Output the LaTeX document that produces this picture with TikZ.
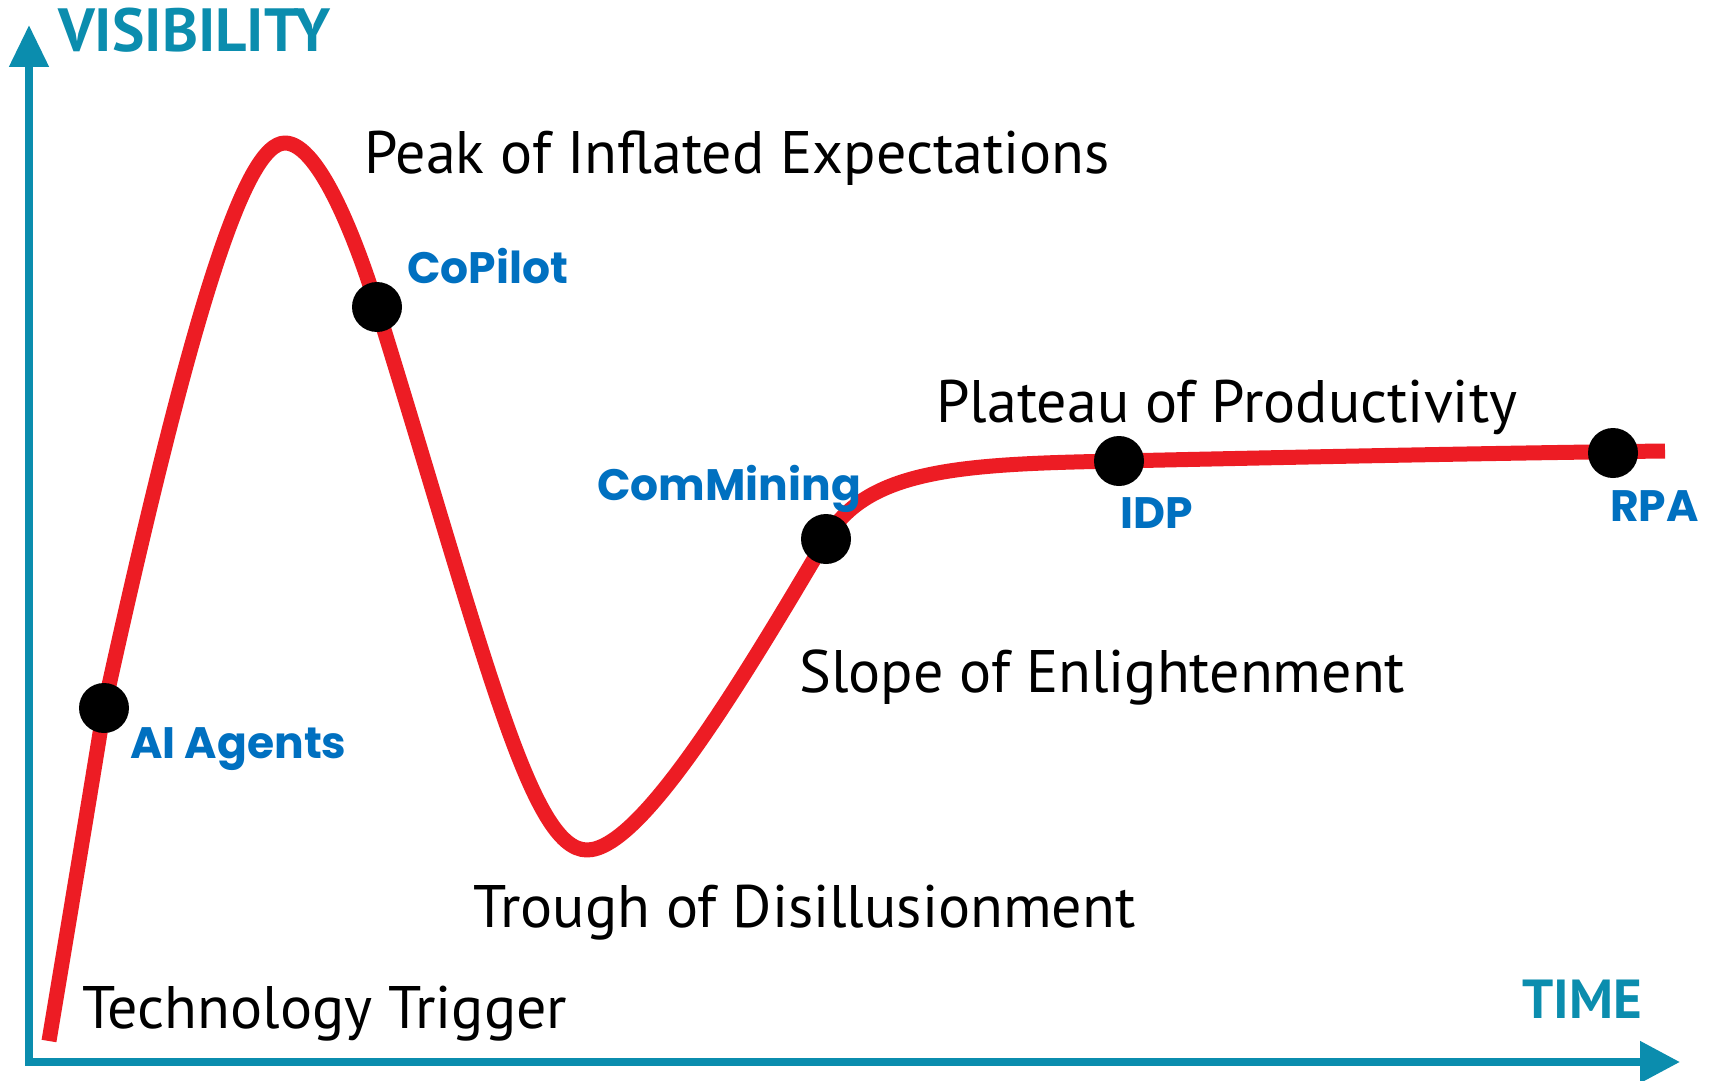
\documentclass[tikz,border=0pt]{standalone}
\usepackage{fontspec}
\setmainfont{PT Sans}
\newfontfamily\labfont{Poppins}
\usetikzlibrary{arrows.meta}
\definecolor{axisteal}{RGB}{11,141,174}
\definecolor{labblue}{RGB}{0,112,192}
\definecolor{hypered}{RGB}{237,28,36}
\begin{document}
\begin{tikzpicture}[x=1pt,y=-1pt,
  phase/.style={anchor=base west, inner sep=0pt, font=\fontsize{60}{64}\selectfont, text=black},
  techlab/.style={anchor=base west, inner sep=0pt, font=\labfont\bfseries\fontsize{44}{48}\selectfont, text=labblue},
  axislab/.style={anchor=base west, inner sep=0pt, font=\bfseries\fontsize{61}{64}\selectfont, text=axisteal},
  dot/.style={circle, fill=black, minimum size=50pt, inner sep=0pt},
  hype/.style={draw=hypered, line width=15pt, line join=round},
  axisline/.style={draw=axisteal, line width=8pt, {Triangle[length=42pt,width=38pt]}-{Triangle[length=40pt,width=40pt]}}]
\path[use as bounding box, fill=white] (0,0) rectangle (1709,1081);
% axes
\coordinate (ytip) at (29,25);
\coordinate (origin) at (29,1062);
\coordinate (xtip) at (1680,1062);
\draw[axisline] (ytip) -- (origin) -- (xtip);
\node[axislab] (vis) at (58,52) {VISIBILITY};
\node[axislab, font=\bfseries\fontsize{55}{58}\selectfont] (time) at (1522,1018) {TIME};
% hype curve
\coordinate (start) at (49,1041);
\coordinate (peakpt) at (285,143);
\coordinate (troughpt) at (587,850);
\coordinate (endpt) at (1665,451);
\draw[hype] (start)
  .. controls (70,915) and (95,765) .. (104,708)
  .. controls (192,308) and (245,143) .. (peakpt)
  .. controls (320,143) and (358.4,247) .. (377,307)
  .. controls (485.5,657) and (530,850) .. (troughpt)
  .. controls (640,850) and (737.5,689) .. (826,539)
  .. controls (867,469) and (960,464) .. (1119,461)
  .. controls (1300,457) and (1500,453) .. (endpt);
% dots
\node[dot] (ai) at (104,708) {};
\node[dot] (copilot) at (377,307) {};
\node[dot] (commining) at (826,539) {};
\node[dot] (idp) at (1119,461) {};
\node[dot] (rpa) at (1613,453) {};
% technology labels
\node[techlab] (ailab) at (130,758) {AI Agents};
\node[techlab] (copilotlab) at (407,283) {CoPilot};
\node[techlab] (comlab) at (597,500) {ComMining};
\node[techlab] (idplab) at (1120,528) {IDP};
\node[techlab] (rpalab) at (1610,521) {RPA};
% phase labels
\node[phase] (peak) at (364,173) {Peak of Inflated Expectations};
\node[phase] (plateau) at (936,422) {Plateau of Productivity};
\node[phase] (slope) at (799,692) {Slope of Enlightenment};
\node[phase] (trough) at (473,927) {Trough of Disillusionment};
\node[phase] (trigger) at (82,1028) {Technology Trigger};
\end{tikzpicture}
\end{document}
